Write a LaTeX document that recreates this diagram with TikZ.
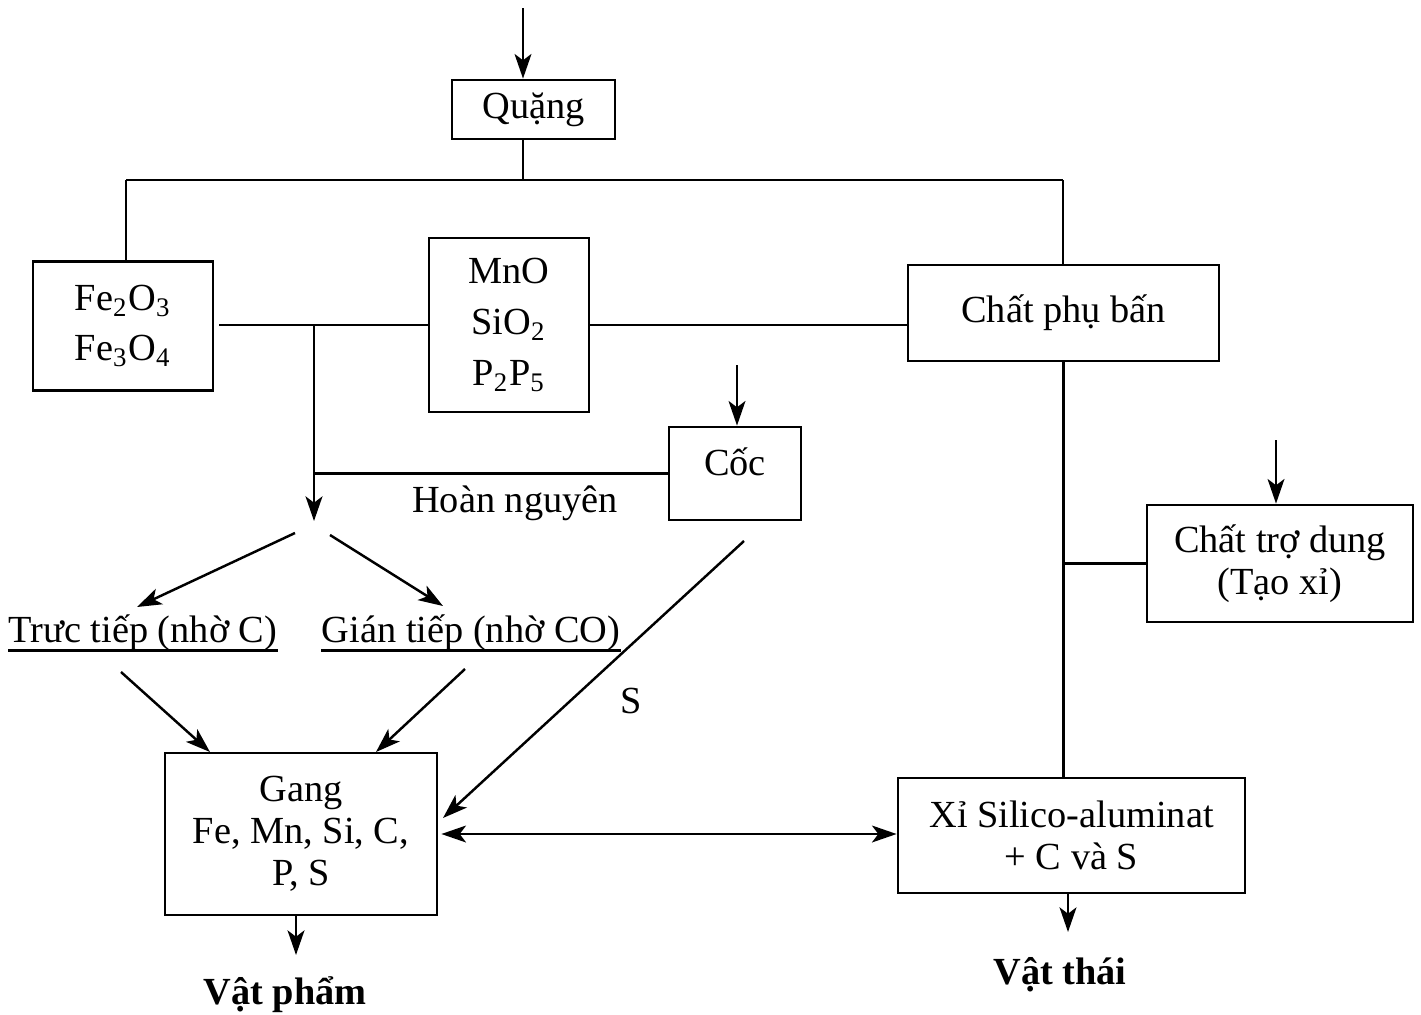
\documentclass[tikz,border=0pt]{standalone}
\usepackage{fontspec}
\setmainfont{Liberation Serif}
\usetikzlibrary{arrows.meta}
\begin{document}
\begin{tikzpicture}[x=0.01cm,y=-0.01cm,
  every node/.style={font=\fontsize{10.9pt}{12pt}\selectfont},
  box/.style={draw, line width=0.8pt, inner sep=0pt, align=center},
  txt/.style={inner sep=0pt, align=center},
  ln/.style={line width=0.7pt},
  tip/.style={Stealth[length=7pt,width=4.8pt,inset=1.8pt]},
  arr/.style={line width=0.7pt, -{Stealth[length=7pt,width=4.8pt,inset=1.8pt]}},
  darr/.style={line width=0.7pt, {Stealth[length=7pt,width=4.8pt,inset=1.8pt]}-{Stealth[length=7pt,width=4.8pt,inset=1.8pt]}}]
\useasboundingbox (0,0) rectangle (1421,1015);

% boxes
\node[box, minimum width=163*0.01cm, minimum height=59*0.01cm] (q) at (533.5,109.5) {Quặng};
\node[box, minimum width=180*0.01cm, minimum height=129*0.01cm, font=\fontsize{10.9pt}{14.2pt}\selectfont] (fe) at (123,326) {Fe\textsubscript{2}O\textsubscript{3}\\Fe\textsubscript{3}O\textsubscript{4}};
\node[box, minimum width=160*0.01cm, minimum height=174*0.01cm, font=\fontsize{10.9pt}{14.5pt}\selectfont] (mno) at (509,325) {MnO\\SiO\textsubscript{2}\\P\textsubscript{2}P\textsubscript{5}};
\node[box, minimum width=311*0.01cm, minimum height=96*0.01cm] (cp) at (1063.5,313) {Chất phụ bấn};
\node[box, minimum width=132*0.01cm, minimum height=93*0.01cm] (coc) at (735,473.5) {};
\node[txt] (coct) at (735,462) {Cốc};
\node[box, minimum width=266*0.01cm, minimum height=117*0.01cm] (ctd) at (1280,563.5) {Chất trợ dung\\(Tạo xỉ)};
\node[box, minimum width=272*0.01cm, minimum height=162*0.01cm] (gang) at (301,834) {Gang\\Fe, Mn, Si, C,\\P, S};
\node[box, minimum width=347*0.01cm, minimum height=115*0.01cm] (xi) at (1071.5,835.5) {Xỉ Silico-aluminat\\+ C và S};

% texts
\node[txt] (hn) at (515,503) {Hoàn nguyên};
\node[txt] (tt) at (143,633) {Trưc tiếp (nhờ C)};
\node[txt] (gt) at (471,633) {Gián tiếp (nhờ CO)};
\node[txt] (s) at (631,701) {S};
\node[txt, font=\fontsize{10.9pt}{12pt}\selectfont\bfseries] (vp) at (285,995) {Vật phẩm};
\node[txt, font=\fontsize{10.9pt}{12pt}\selectfont\bfseries] (vt) at (1060,975) {Vật thái};
\draw[ln] ([yshift=1*0.01cm]tt.south west) -- ([yshift=1*0.01cm]tt.south east);
\draw[ln] ([yshift=1*0.01cm]gt.south west) -- ([yshift=1*0.01cm]gt.south east);

% coordinates
\coordinate (qin) at (523,8);
\coordinate (busL) at (126,180);
\coordinate (busM) at (523,180);
\coordinate (busR) at (1063,180);
\coordinate (j1) at (314,325);
\coordinate (hend) at (314,521);
\coordinate (cin) at (737,365);
\coordinate (tin) at (1276,440);
\coordinate (a1s) at (295,533);
\coordinate (a1e) at (137,607);
\coordinate (a2s) at (330,535);
\coordinate (a2e) at (443,606);
\coordinate (a3s) at (121,672);
\coordinate (a3e) at (210,752);
\coordinate (a4s) at (465,669);
\coordinate (a4e) at (376,752);
\coordinate (a5s) at (744,541);
\coordinate (a5e) at (443,818);
\coordinate (gout) at (296,955);
\coordinate (xout) at (1068,932);

% connectors
\draw[arr] (qin) -- (qin |- q.north);
\draw[ln] (qin |- q.south) -- (busM);
\draw[ln] (busL) -- (busR);
\draw[ln] (busL) -- (busL |- fe.north);
\draw[ln] (busR) -- (busR |- cp.north);
\draw[ln] ([xshift=5*0.01cm]fe.east |- mno.west) -- (mno.west);
\draw[ln] (mno.east) -- (mno.east -| cp.west);
\draw[arr] (j1) -- (hend);
\draw[ln] (coc.west) -- (coc.west -| j1);
\draw[arr] (cin) -- (cin |- coc.north);
\draw[arr] (a1s) -- (a1e);
\draw[arr] (a2s) -- (a2e);
\draw[arr] (a3s) -- (a3e);
\draw[arr] (a4s) -- (a4e);
\draw[arr] (a5s) -- (a5e);
\draw[darr] ([xshift=3*0.01cm]gang.east) -- (gang.east -| xi.west);
\draw[ln] (cp.south) -- (cp.south |- xi.north);
\draw[ln] (ctd.west -| cp.south) -- (ctd.west);
\draw[arr] (tin) -- (tin |- ctd.north);
\draw[arr] (gang.south -| gout) -- (gout);
\draw[arr] (xi.south -| xout) -- (xout);
\end{tikzpicture}
\end{document}
